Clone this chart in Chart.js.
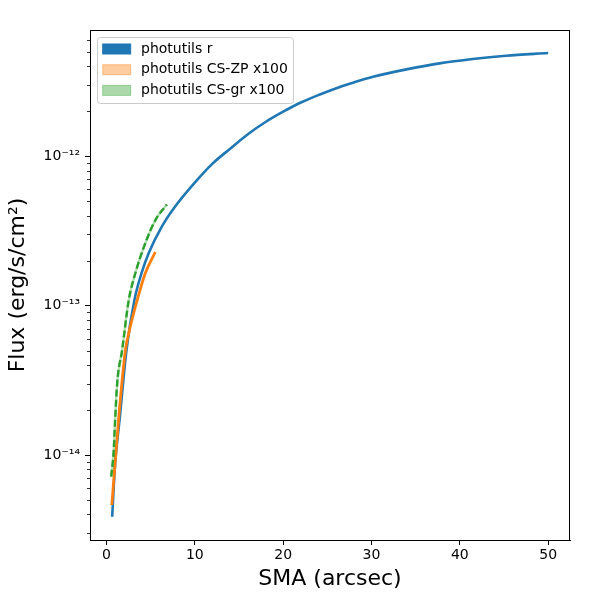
<!DOCTYPE html>
<html>
<head>
<meta charset="utf-8">
<script src="https://cdn.jsdelivr.net/npm/chart.js@4.4.1/dist/chart.umd.min.js"></script>
<style>
html, body { margin: 0; padding: 0; background: #fff; }
</style>
</head>
<body>
<canvas id="myChart" width="600" height="600"></canvas>
<script>
// photutils r profile
var smaR  = [0.64, 0.96, 1.52, 2.26, 3.16, 4.0, 4.77, 6.29, 7.71, 10.24, 12.0, 14.0, 16.0, 18.0, 20.0,
             22.0, 24.0, 26.41, 28.0, 30.17, 33.94, 37.7, 41.46, 45.22, 50.0];
var fluxR = [3.86e-15, 8.44e-15, 1.82e-14, 5.04e-14, 1.09e-13, 1.67e-13, 2.24e-13, 3.40e-13, 4.55e-13, 6.90e-13,
             8.90e-13, 1.12e-12, 1.40e-12, 1.69e-12, 1.98e-12, 2.28e-12, 2.56e-12, 2.90e-12, 3.11e-12, 3.39e-12,
             3.80e-12, 4.17e-12, 4.46e-12, 4.69e-12, 4.89e-12];

// CS-ZP x100
var smaZP  = [0.60, 0.94, 1.39, 2.14, 2.52, 3.27, 4.40, 5.53];
var fluxZP = [4.63e-15, 8.36e-15, 1.80e-14, 5.04e-14, 6.54e-14, 9.82e-14, 1.65e-13, 2.28e-13];

// CS-gr x100
var smaGR  = [0.53, 0.82, 0.94, 1.21, 1.77, 2.52, 3.27, 4.40, 5.53, 6.83];
var fluxGR = [7.16e-15, 1.08e-14, 1.55e-14, 3.03e-14, 5.04e-14, 1.09e-13, 1.65e-13, 2.62e-13, 3.73e-13, 4.74e-13];

var legendLabels = ["photutils r", "photutils CS-ZP x100", "photutils CS-gr x100"];

var xTicks = [0, 10, 20, 30, 40, 50];
var yMajor = [1e-14, 1e-13, 1e-12];
var yMajorLabels = ["10\u207B\u00B9\u2074", "10\u207B\u00B9\u00B3", "10\u207B\u00B9\u00B2"];
var yMinor = [3e-15, 4e-15, 5e-15, 6e-15, 7e-15, 8e-15, 9e-15,
              2e-14, 3e-14, 4e-14, 5e-14, 6e-14, 7e-14, 8e-14, 9e-14,
              2e-13, 3e-13, 4e-13, 5e-13, 6e-13, 7e-13, 8e-13, 9e-13,
              2e-12, 3e-12, 4e-12, 5e-12, 6e-12];

var BLUE = '#1f77b4', ORANGE = '#ff7f0e', GREEN = '#2ca02c';

function pts(xs, ys) {
    return xs.map(function (x, i) { return { x: x, y: ys[i] }; });
}

Chart.defaults.font.family = "'DejaVu Sans', sans-serif";
Chart.defaults.color = '#000';

// frame, minor ticks and matplotlib-style legend inside the axes
var extras = {
    id: 'extras',
    afterDraw: function (chart) {
        var ctx = chart.ctx, a = chart.chartArea, y = chart.scales.y;
        ctx.save();
        ctx.strokeStyle = '#000';
        ctx.lineWidth = 1;
        ctx.strokeRect(a.left + 0.5, a.top + 0.5, a.right - a.left - 1, a.bottom - a.top);

        ctx.lineWidth = 0.8;
        yMinor.forEach(function (v) {
            var py = Math.round(y.getPixelForValue(v)) + 0.5;
            ctx.beginPath();
            ctx.moveTo(a.left, py);
            ctx.lineTo(a.left - 3, py);
            ctx.stroke();
        });

        var L = a.left, T = a.top;
        ctx.beginPath();
        ctx.roundRect(L + 7.5, T + 7.5, 196, 66, 3);
        ctx.fillStyle = 'rgba(255,255,255,0.8)';
        ctx.fill();
        ctx.strokeStyle = '#cccccc';
        ctx.lineWidth = 1;
        ctx.stroke();

        var fills = [BLUE, 'rgba(255,127,14,0.4)', 'rgba(44,160,44,0.4)'];
        ctx.font = "14px 'DejaVu Sans'";
        ctx.textBaseline = 'middle';
        legendLabels.forEach(function (lab, i) {
            var ry = T + 19 + i * 20.7;
            ctx.fillStyle = fills[i];
            ctx.fillRect(L + 12.7, ry - 5, 28, 10);
            ctx.strokeStyle = fills[i];
            ctx.strokeRect(L + 12.7, ry - 5, 28, 10);
            ctx.fillStyle = '#000';
            ctx.fillText(lab, L + 51, ry);
        });
        ctx.restore();
    }
};

var ctx = document.getElementById('myChart').getContext('2d');
var chart = new Chart(ctx, {
    type: 'line',
    data: {
        datasets: [{
            label: legendLabels[0],
            data: pts(smaR, fluxR),
            borderColor: BLUE,
            borderWidth: 2.6,
            order: 4
        }, {
            label: legendLabels[1],
            data: pts(smaZP, fluxZP),
            borderColor: ORANGE,
            borderWidth: 2.8,
            order: 3
        }, {
            label: legendLabels[2] + ' band',
            data: pts(smaGR, fluxGR),
            borderColor: 'rgba(44,160,44,0.35)',
            borderWidth: 2.4,
            order: 2
        }, {
            label: legendLabels[2],
            data: pts(smaGR, fluxGR),
            borderColor: GREEN,
            borderWidth: 2.4,
            borderDash: [7, 3],
            order: 1
        }]
    },
    plugins: [extras],
    options: {
        responsive: false,
        animation: false,
        layout: { padding: { left: 0, top: 30, right: 30, bottom: 0 } },
        elements: {
            point: { radius: 0 },
            line: { fill: false, cubicInterpolationMode: 'monotone' }
        },
        plugins: {
            legend: { display: false },
            tooltip: { enabled: false }
        },
        scales: {
            x: {
                type: 'linear',
                min: -1.87,
                max: 52.47,
                afterBuildTicks: function (s) { s.ticks = xTicks.map(function (v) { return { value: v }; }); },
                afterFit: function (s) { s.height = 60; },
                ticks: { font: { size: 14 }, color: '#000', padding: 2, maxRotation: 0, autoSkip: false },
                grid: { drawOnChartArea: false, tickLength: 5, tickColor: '#000', tickWidth: 1 },
                border: { color: '#000', width: 1 },
                title: { display: true, text: 'SMA (arcsec)', font: { size: 22 }, color: '#000', padding: { top: 0, bottom: 8 } }
            },
            y: {
                type: 'logarithmic',
                min: 2.70e-15,
                max: 6.97e-12,
                afterBuildTicks: function (s) { s.ticks = yMajor.map(function (v) { return { value: v }; }); },
                afterFit: function (s) { s.width = 90; },
                ticks: {
                    font: { size: 14 }, color: '#000', padding: 5, autoSkip: false,
                    callback: function (v) { var i = yMajor.indexOf(v); return i >= 0 ? yMajorLabels[i] : ''; }
                },
                grid: { drawOnChartArea: false, tickLength: 5, tickColor: '#000', tickWidth: 1 },
                border: { color: '#000', width: 1 },
                title: { display: true, text: 'Flux (erg/s/cm\u00B2)', font: { size: 22 }, color: '#000', padding: { top: 5, bottom: 0 } }
            }
        }
    }
});
</script>
</body>
</html>
